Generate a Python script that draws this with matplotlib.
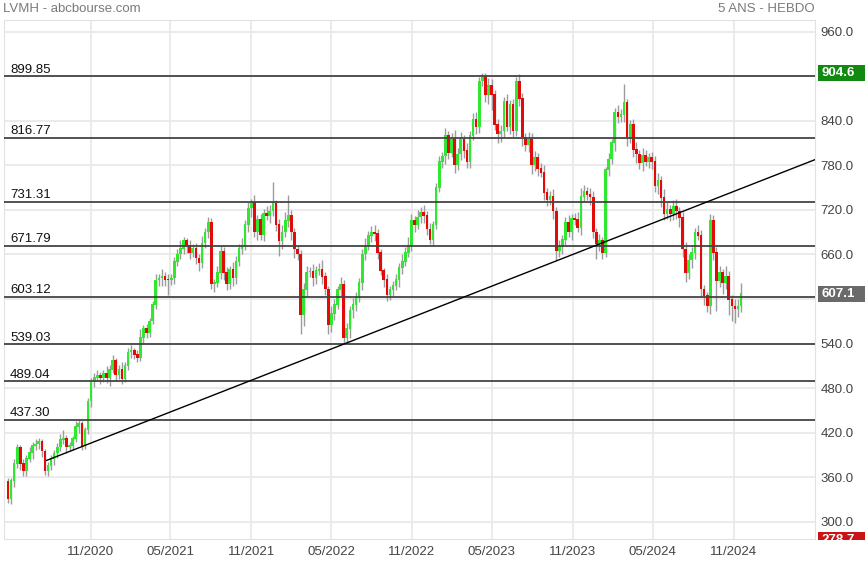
import numpy as np
import pandas as pd
import matplotlib
matplotlib.use("Agg")
import matplotlib.pyplot as plt
import matplotlib.dates as mdates
from matplotlib.patches import Rectangle
from matplotlib.transforms import Bbox, blended_transform_factory

plt.rcParams['font.family'] = ['Liberation Sans', 'DejaVu Sans']

# weekly closes (first week starts 27/04/2020)
first_open = 354
closes = [
    330, 355, 378, 400, 378, 368, 385, 393, 402, 404,
    408, 395, 368, 375, 385, 392, 400, 410, 412, 400,
    402, 412, 428, 432, 402, 424, 462, 488, 494, 497,
    494, 500, 493, 505, 517, 498, 505, 492, 510, 528,
    530, 525, 520, 548, 560, 554, 570, 592, 625, 628,
    630, 626, 625, 628, 650, 660, 668, 678, 672, 662,
    668, 655, 648, 675, 690, 703, 620, 622, 635, 664,
    635, 620, 640, 628, 650, 668, 672, 700, 722, 730,
    690, 707, 686, 715, 712, 718, 728, 700, 678, 690,
    705, 712, 690, 667, 660, 578, 612, 636, 637, 628,
    638, 640, 630, 613, 565, 580, 592, 612, 620, 548,
    560, 585, 592, 602, 622, 660, 672, 685, 690, 688,
    662, 638, 626, 605, 612, 618, 626, 642, 650, 662,
    672, 706, 700, 710, 716, 712, 694, 680, 700, 750,
    785, 792, 820, 797, 815, 780, 795, 815, 800, 785,
    820, 842, 832, 893, 898, 875, 888, 875, 835, 822,
    826, 866, 832, 862, 826, 893, 870, 818, 808, 815,
    780, 790, 775, 770, 743, 733, 738, 718, 665, 670,
    680, 703, 690, 708, 707, 696, 738, 745, 740, 737,
    690, 674, 678, 662, 774, 788, 810, 851, 845, 848,
    864, 818, 835, 801, 795, 783, 793, 785, 790, 785,
    752, 760, 736, 714, 720, 715, 725, 718, 709, 667,
    635, 652, 662, 689, 685, 613, 604, 590, 705, 662,
    624, 635, 622, 630, 599, 590, 586, 590, 607,
]
# wick lengths above / below the body
up_wick = [
    5, 4, 6, 4, 3, 6, 5, 8, 6, 8,
    5, 4, 3, 6, 5, 4, 6, 8, 12, 5,
    6, 4, 8, 5, 3, 4, 4, 5, 6, 8,
    5, 4, 10, 6, 8, 4, 6, 10, 5, 6,
    8, 4, 6, 12, 5, 6, 4, 5, 8, 6,
    10, 6, 8, 5, 6, 8, 12, 6, 4, 8,
    6, 8, 5, 10, 6, 8, 6, 5, 10, 8,
    6, 8, 5, 10, 8, 6, 10, 6, 8, 5,
    10, 6, 8, 6, 10, 8, 30, 6, 8, 10,
    12, 28, 8, 6, 4, 6, 10, 8, 6, 10,
    6, 8, 12, 6, 5, 10, 8, 6, 10, 5,
    8, 6, 10, 8, 6, 8, 10, 6, 8, 10,
    6, 6, 4, 8, 6, 6, 8, 6, 10, 8,
    12, 8, 6, 10, 8, 10, 6, 8, 5, 6,
    8, 6, 10, 6, 8, 12, 8, 10, 6, 10,
    6, 8, 10, 6, 7, 6, 10, 8, 6, 8,
    8, 6, 10, 6, 8, 6, 10, 8, 6, 10,
    8, 10, 6, 8, 10, 6, 8, 10, 6, 10,
    6, 8, 10, 6, 8, 10, 12, 8, 6, 10,
    8, 6, 10, 6, 4, 8, 6, 6, 10, 8,
    25, 6, 6, 8, 10, 6, 10, 8, 6, 8,
    8, 10, 6, 12, 10, 6, 8, 10, 6, 8,
    10, 8, 8, 6, 10, 8, 6, 6, 10, 8,
    8, 10, 6, 14, 8, 6, 10, 10, 15,
]
dn_wick = [
    5, 6, 8, 5, 8, 6, 6, 5, 8, 6,
    6, 8, 5, 6, 5, 8, 6, 5, 6, 8,
    5, 6, 4, 8, 5, 4, 6, 8, 6, 4,
    8, 6, 6, 10, 5, 8, 6, 6, 4, 6,
    8, 6, 5, 4, 8, 6, 5, 4, 6, 8,
    10, 8, 20, 6, 8, 6, 6, 8, 10, 8,
    6, 8, 10, 6, 6, 8, 6, 10, 6, 8,
    10, 8, 6, 10, 8, 6, 8, 6, 10, 12,
    6, 10, 6, 8, 6, 10, 6, 8, 20, 10,
    6, 8, 10, 12, 8, 25, 15, 8, 6, 10,
    8, 6, 10, 8, 12, 10, 8, 6, 8, 8,
    6, 12, 10, 8, 6, 10, 8, 6, 8, 10,
    8, 6, 10, 8, 6, 8, 6, 10, 8, 6,
    6, 8, 10, 6, 8, 10, 8, 6, 8, 6,
    6, 8, 10, 8, 6, 10, 6, 8, 10, 8,
    8, 6, 10, 8, 6, 10, 12, 20, 8, 12,
    10, 8, 6, 10, 8, 6, 10, 12, 8, 10,
    12, 8, 10, 6, 10, 8, 6, 10, 12, 8,
    10, 8, 6, 10, 8, 6, 10, 8, 6, 10,
    8, 20, 10, 8, 6, 8, 6, 10, 8, 6,
    10, 12, 8, 10, 12, 8, 10, 6, 8, 10,
    8, 10, 12, 8, 6, 10, 8, 10, 12, 10,
    12, 8, 10, 8, 6, 10, 12, 8, 10, 10,
    40, 8, 15, 8, 20, 20, 18, 10, 8,
]

levels = [899.85, 816.77, 731.31, 671.79, 603.12, 539.03, 489.04, 437.30]
y_ticks = [300, 360, 420, 480, 540, 600, 660, 720, 780, 840, 900, 960]
y_tick_labels = ["300.0", "360.0", "420.0", "480.0", "540.0", "", "660.0",
                 "720.0", "780.0", "840.0", "", "960.0"]
x_ticks = ["2020-11-01", "2021-05-01", "2021-11-01", "2022-05-01", "2022-11-01",
           "2023-05-01", "2023-11-01", "2024-05-01", "2024-11-01"]
x_tick_labels = ["11/2020", "05/2021", "11/2021", "05/2022", "11/2022",
                 "05/2023", "11/2023", "05/2024", "11/2024"]
trend_x = ["2020-07-24", "2025-05-05"]
trend_y = [382.6, 787.7]
tag_values = [904.6, 607.1, 278.7]
tag_colors = ["#128a12", "#6a6a6a", "#c81414"]
tag_shift = [0, 0, -3.5]

closes = np.array(closes, dtype=float)
opens = np.r_[first_open, closes[:-1]]
highs = np.maximum(opens, closes) + np.array(up_wick)
lows = np.minimum(opens, closes) - np.array(dn_wick)
dates = mdates.date2num(pd.date_range("2020-04-27", periods=len(closes), freq="7D"))

fig = plt.figure(figsize=(8.65, 5.62), dpi=100)
ax = fig.add_axes([4 / 865, 23 / 562, 811 / 865, 519 / 562])

ax.vlines(dates, lows, highs, color="#9c9c9c", lw=1, zorder=3)
up = closes >= opens
colors = np.where(up, "#2fe82f", "#e30a0a")
ax.bar(dates, np.abs(closes - opens) + 0.8, bottom=np.minimum(opens, closes),
       width=6, color=colors, lw=0, zorder=4)

for lv in levels:
    ax.axhline(lv, color="#444444", lw=1.3, zorder=5)
    ax.annotate(f"{lv:.2f}", xy=(6 / 811, lv), xycoords=("axes fraction", "data"),
                xytext=(0, 0.5), textcoords="offset points", va="bottom", ha="left",
                fontsize=9.5, color="#111111", zorder=6)

ax.plot(mdates.date2num(pd.to_datetime(trend_x)), trend_y, color="black", lw=1, zorder=5)

ax.set_xlim(mdates.date2num(pd.Timestamp("2020-04-18")), mdates.date2num(pd.Timestamp("2025-05-05")))
ax.set_ylim(276.7, 975.8)
ax.set_xticks(mdates.date2num(pd.to_datetime(x_ticks)))
ax.set_xticklabels(x_tick_labels)
ax.set_yticks(y_ticks)
ax.set_yticklabels(y_tick_labels)
ax.yaxis.tick_right()
ax.tick_params(axis="both", length=0, labelsize=9.5, labelcolor="#444444")
ax.tick_params(axis="y", pad=4)
ax.tick_params(axis="x", pad=5)
ax.grid(color="#e9e9e9", lw=1.3, zorder=0)
ax.set_axisbelow(True)
for sp in ax.spines.values():
    sp.set_color("#e2e2e2")

# price tags on the right scale
tr = blended_transform_factory(ax.transAxes, ax.transData)
clip = Bbox.from_extents(0, 22, 865, 562)
for v, c, s in zip(tag_values, tag_colors, tag_shift):
    r = Rectangle((814 / 811, v + s - 10.8), 0.06, 21.6, transform=tr, fc=c, ec="none")
    r.set_clip_box(clip)
    fig.add_artist(r)
    t = fig.text(817 / 811, v + s, f"{v:.1f}", transform=tr, va="center", ha="left",
                 fontsize=9.5, color="white", fontweight="bold")
    t.set_clip_box(clip)
    t.set_clip_on(True)

fig.text(3 / 865, 1 - 9 / 562, "LVMH - abcbourse.com", va="center", ha="left",
         fontsize=9.5, color="#7a7a7a")
fig.text(815 / 865, 1 - 9 / 562, "5 ANS - HEBDO", va="center", ha="right",
         fontsize=9.5, color="#7a7a7a")

fig.savefig("out.png", dpi=100, facecolor="white")
